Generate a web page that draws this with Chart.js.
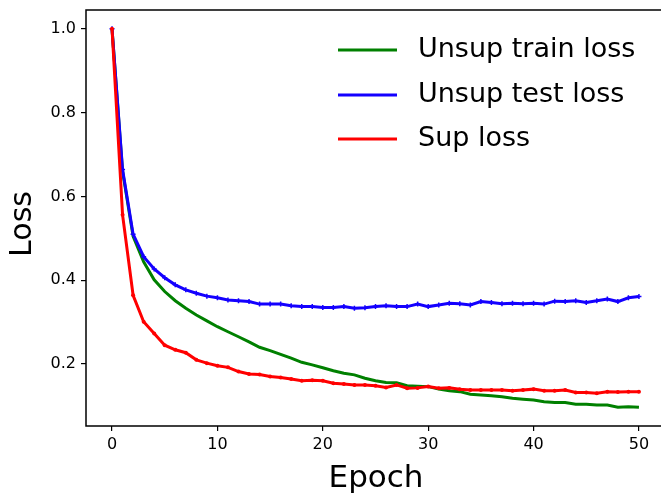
<!DOCTYPE html>
<html>
<head>
<meta charset="utf-8">
<script src="https://cdn.jsdelivr.net/npm/chart.js@4"></script>
<style>
html, body { margin: 0; padding: 0; background: #fff; overflow: hidden; }
#wrap { width: 661px; height: 495px; position: relative; }
</style>
</head>
<body>
<div id="wrap"><canvas id="lossChart"></canvas></div>
<script>
const epochs = [0, 1, 2, 3, 4, 5, 6, 7, 8, 9, 10, 11, 12, 13, 14, 15, 16, 17, 18, 19, 20,
    21, 22, 23, 24, 25, 26, 27, 28, 29, 30, 31, 32, 33, 34, 35, 36, 37, 38, 39, 40,
    41, 42, 43, 44, 45, 46, 47, 48, 49, 50];

const unsupTrain = [1.0, 0.66, 0.505, 0.444, 0.401, 0.373, 0.351, 0.333, 0.317, 0.303, 0.289,
    0.277, 0.265, 0.253, 0.240, 0.232, 0.223, 0.214, 0.204, 0.198, 0.191,
    0.184, 0.178, 0.174, 0.166, 0.160, 0.156, 0.155, 0.148, 0.147, 0.146,
    0.140, 0.136, 0.134, 0.128, 0.126, 0.124, 0.122, 0.118, 0.116, 0.114,
    0.110, 0.108, 0.108, 0.104, 0.104, 0.102, 0.102, 0.097, 0.098, 0.097];

const unsupTest = [1.0, 0.664, 0.510, 0.456, 0.427, 0.406, 0.389, 0.377, 0.369, 0.362, 0.358,
    0.353, 0.351, 0.349, 0.343, 0.343, 0.343, 0.339, 0.337, 0.337, 0.335,
    0.335, 0.337, 0.333, 0.334, 0.337, 0.339, 0.337, 0.337, 0.343, 0.337,
    0.341, 0.345, 0.344, 0.341, 0.349, 0.347, 0.344, 0.345, 0.344, 0.345,
    0.343, 0.350, 0.349, 0.351, 0.347, 0.351, 0.355, 0.349, 0.358, 0.361];

const supLoss = [1.0, 0.556, 0.364, 0.301, 0.273, 0.245, 0.234, 0.227, 0.210, 0.202, 0.196,
    0.192, 0.182, 0.176, 0.175, 0.170, 0.168, 0.164, 0.160, 0.161, 0.160,
    0.154, 0.152, 0.150, 0.150, 0.148, 0.144, 0.150, 0.142, 0.143, 0.146,
    0.142, 0.143, 0.140, 0.138, 0.138, 0.138, 0.138, 0.136, 0.138, 0.140,
    0.136, 0.136, 0.138, 0.132, 0.132, 0.130, 0.134, 0.133, 0.134, 0.134];

const xTicks = [0, 10, 20, 30, 40, 50];
const yTicks = [0.2, 0.4, 0.6, 0.8, 1.0];

Chart.defaults.font.family = "'DejaVu Sans', sans-serif";
Chart.defaults.color = '#000';

const toPoints = (vals) => vals.map((v, i) => ({ x: epochs[i], y: v }));

// left/top/bottom spines (the right one is cut off in the original)
// plus the two axis titles, placed like the matplotlib ones
const boxPlugin = {
    id: 'box',
    afterDraw(chart) {
        const { ctx, chartArea: a } = chart;
        ctx.save();
        ctx.strokeStyle = '#000';
        ctx.lineWidth = 1.5;
        ctx.beginPath();
        ctx.moveTo(chart.width, a.top);
        ctx.lineTo(a.left, a.top);
        ctx.lineTo(a.left, a.bottom);
        ctx.lineTo(chart.width, a.bottom);
        ctx.stroke();

        ctx.fillStyle = '#000';
        ctx.textAlign = 'center';
        ctx.textBaseline = 'middle';
        ctx.font = "31px 'DejaVu Sans'";
        ctx.fillText('Epoch', 376, 479);
        ctx.translate(23, 224);
        ctx.rotate(-Math.PI / 2);
        ctx.font = "30px 'DejaVu Sans'";
        ctx.fillText('Loss', 0, 0);
        ctx.restore();
    }
};

// legend inside the axes, upper right, no frame
const innerLegend = {
    id: 'innerLegend',
    afterDraw(chart) {
        const ctx = chart.ctx;
        const rows = [50, 95, 139];
        ctx.save();
        chart.data.datasets.forEach((ds, i) => {
            const y = rows[i];
            ctx.strokeStyle = ds.borderColor;
            ctx.lineWidth = 3;
            ctx.beginPath();
            ctx.moveTo(338, y);
            ctx.lineTo(397, y);
            ctx.stroke();
            ctx.fillStyle = '#000';
            ctx.font = "27px 'DejaVu Sans'";
            ctx.textBaseline = 'middle';
            ctx.textAlign = 'left';
            ctx.fillText(ds.label, 418, y);
        });
        ctx.restore();
    }
};

const ctx = document.getElementById('lossChart').getContext('2d');

new Chart(ctx, {
    type: 'line',
    data: {
        datasets: [{
            label: 'Unsup train loss',
            data: toPoints(unsupTrain),
            borderColor: '#008000',
            borderWidth: 3,
            pointRadius: 0,
            order: 2
        }, {
            label: 'Unsup test loss',
            data: toPoints(unsupTest),
            borderColor: '#1400ff',
            backgroundColor: '#1400ff',
            borderWidth: 3,
            pointStyle: 'cross',
            pointRadius: 2.5,
            pointBorderWidth: 1.5,
            order: 1
        }, {
            label: 'Sup loss',
            data: toPoints(supLoss),
            borderColor: '#ff0000',
            backgroundColor: '#ff0000',
            borderWidth: 3,
            pointRadius: 2,
            pointBorderWidth: 0,
            order: 0
        }]
    },
    options: {
        responsive: true,
        maintainAspectRatio: false,
        animation: false,
        layout: { padding: { top: 10, right: 0, left: 0, bottom: 0 } },
        elements: { line: { tension: 0 } },
        plugins: { legend: { display: false }, tooltip: { enabled: false } },
        scales: {
            x: {
                type: 'linear', min: -2.47, max: 51.57,
                afterBuildTicks: (scale) => { scale.ticks = xTicks.map(v => ({ value: v })); },
                afterFit: (scale) => { scale.height = 69; scale.paddingLeft = 0; scale.paddingRight = 0; },
                border: { display: false },
                grid: { display: true, drawOnChartArea: false, tickLength: 5, color: '#000', lineWidth: 1.2 },
                ticks: { font: { size: 16 }, padding: 4, maxRotation: 0 },
                title: { display: false }
            },
            y: {
                min: 0.052, max: 1.045,
                afterBuildTicks: (scale) => { scale.ticks = yTicks.map(v => ({ value: v })); },
                afterFit: (scale) => { scale.width = 86; scale.paddingTop = 0; scale.paddingBottom = 0; },
                border: { display: false },
                grid: { display: true, drawOnChartArea: false, tickLength: 5, color: '#000', lineWidth: 1.2 },
                ticks: { font: { size: 16 }, padding: 5, callback: (v) => v.toFixed(1) },
                title: { display: false }
            }
        }
    },
    plugins: [boxPlugin, innerLegend]
});
</script>
</body>
</html>
